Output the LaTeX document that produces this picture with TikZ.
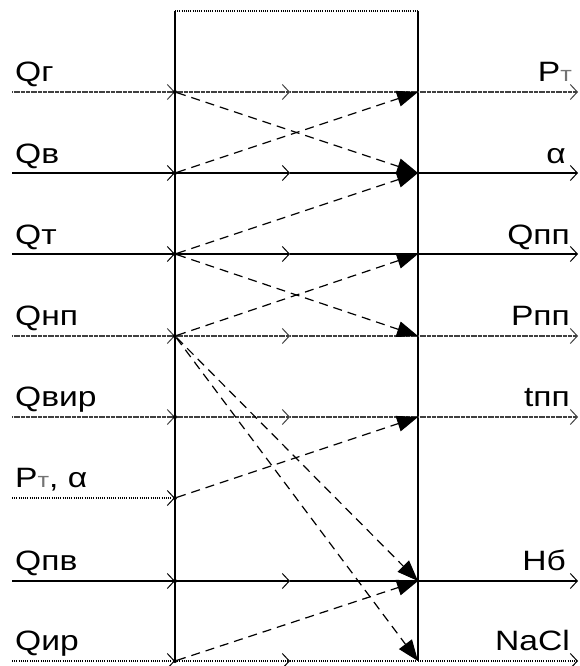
\documentclass[tikz,border=0pt]{standalone}
\usepackage{fontspec}
\usetikzlibrary{arrows.meta}
\newfontfamily\lblfont[FakeStretch=1.2]{Liberation Sans}
\begin{document}
\begin{tikzpicture}[x=1pt,y=-1pt,
  lbl/.style={font=\lblfont\fontsize{28}{32}\selectfont, inner sep=0pt},
  sig/.style={line width=1pt, -{Straight Barb[length=7pt,width=15pt,line width=1pt]}},
  plain/.style={line width=1.2pt},
  grainy/.style={line width=1.8pt, black!75, dash pattern=on 1.4pt off 0.3pt},
  dotline/.style={line width=1.1pt, dash pattern=on 1pt off 1.2pt},
  link/.style={line width=1.2pt, dash pattern=on 9pt off 6pt,
    -{Triangle[length=21pt,width=16pt]}},
  jdot/.style={circle, fill=black, inner sep=0pt, minimum size=4pt}
]
\useasboundingbox (0,0) rectangle (579,666);
\newcommand\tsub{{\color{black!55}\fontsize{21}{21}\selectfont т}}

% row coordinates: input edge, left wall, middle, right wall, output edge
\foreach \r/\y in {1/92,2/173,3/254,4/336,5/417,6/498,7/581,8/661}{
  \coordinate (L\r) at (12,\y);
  \coordinate (A\r) at (175,\y);
  \coordinate (M\r) at (290,\y);
  \coordinate (B\r) at (418,\y);
  \coordinate (E\r) at (578,\y);
}
\coordinate (TL) at (175,11);
\coordinate (TR) at (418,11);

% block walls
\draw[dotline] (TL) -- (TR);
\draw[plain] (TL) -- (A8);
\draw[plain] (TR) -- (B8);

% input lines through the block
\foreach \r/\st in {1/grainy,2/plain,3/plain,4/grainy,5/grainy,7/plain,8/dotline}{
  \draw[sig,\st] (L\r) -- (A\r);
  \draw[sig,\st] (A\r) -- (M\r);
  \draw[\st] (M\r) -- (B\r);
}
\draw[sig,dotline] (L6) -- (A6);

% output lines
\foreach \r/\st in {1/grainy,2/plain,3/plain,4/grainy,5/grainy,7/plain,8/dotline}{
  \draw[sig,\st] (B\r) -- (E\r);
}

% junction dots
\foreach \r in {1,...,8}{ \node[jdot] (J\r) at (A\r) {}; }

% cross links
\draw[link] (J1) -- (B2);
\draw[link] (J2) -- (B1);
\draw[link] (J3) -- (B2);
\draw[link] (J3) -- (B4);
\draw[link] (J4) -- (B3);
\draw[link] (J4) -- (B7);
\draw[link] (J4) -- (B8);
\draw[link] (J6) -- (B5);
\draw[link] (J8) -- (B7);

% input labels
\node[lbl, anchor=base west] (qg)  at (15,82)  {Qг};
\node[lbl, anchor=base west] (qv)  at (15,163) {Qв};
\node[lbl, anchor=base west] (qt)  at (15,244) {Qт};
\node[lbl, anchor=base west] (qnp) at (15,325) {Qнп};
\node[lbl, anchor=base west] (qvir) at (15,406) {Qвир};
\node[lbl, anchor=base west] (pta) at (15,487) {P\tsub, α};
\node[lbl, anchor=base west] (qpv) at (15,570) {Qпв};
\node[lbl, anchor=base west] (qir) at (15,650) {Qир};

% output labels
\node[lbl, anchor=base east] (pt)  at (572,82)  {P\tsub};
\node[lbl, anchor=base east] (al)  at (566,163) {α};
\node[lbl, anchor=base east] (qpp) at (570,244) {Qпп};
\node[lbl, anchor=base east] (ppp) at (570,325) {Pпп};
\node[lbl, anchor=base east] (tpp) at (570,406) {tпп};
\node[lbl, anchor=base east] (nb)  at (566,570) {Нб};
\node[lbl, anchor=base east] (nacl) at (570,650) {NaCl};
\end{tikzpicture}
\end{document}
